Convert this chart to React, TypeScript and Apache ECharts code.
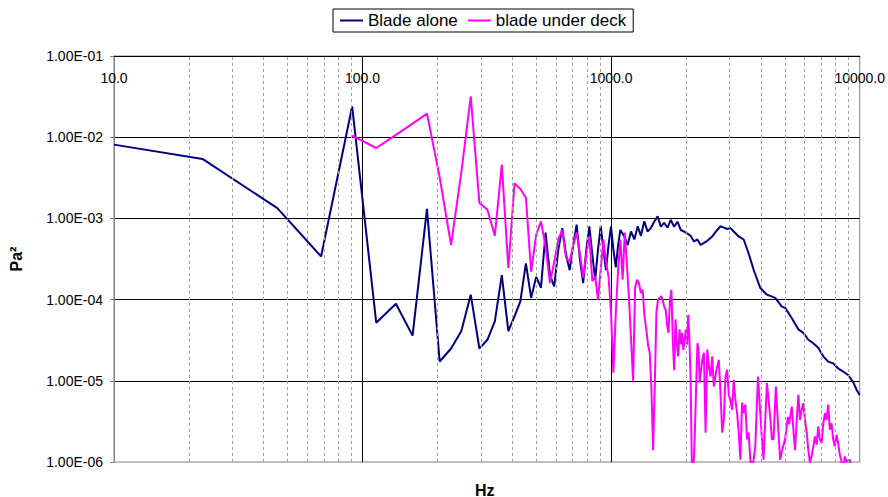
import { useEffect, useRef } from "react";
import * as echarts from "echarts";

// Power spectra of the blade microphone signal, frequency bins in Hz, levels in Pa²
const bladeAloneHz = [
  10, 22.7, 45.4, 68.1, 90.8, 113.5, 136.2, 158.9, 181.6, 204.3, 227, 249.7, 272.4,
  295.1, 317.8, 340.5, 363.2, 385.9, 408.6, 431.3, 454, 476.7, 499.4, 522.1, 544.8,
  567.5, 590.2, 612.9, 635.6, 658.3, 681, 703.7, 726.4, 749.1, 771.8, 794.5, 817.2,
  839.9, 862.6, 885.3, 908, 930.7, 953.4, 976.1, 998.8, 1021.5, 1044.2, 1066.9, 1089.6,
  1130, 1166, 1202, 1240, 1279, 1318, 1359, 1402, 1445, 1490, 1538, 1585, 1634, 1686,
  1738, 1792, 1849, 1905, 1964, 2027, 2089, 2154, 2223, 2291, 2362, 2437, 2552, 2672,
  2754, 2840, 2931, 3020, 3113, 3261, 3414, 3575, 3743, 3981, 4236, 4571, 4863, 5012,
  5333, 5665, 5932, 6213, 6505, 6812, 7133, 7469, 7821, 8190, 8576, 8980, 9403, 9727,
  10000,
];
const bladeAlonePa2 = [
  8.1e-3, 5.4e-3, 1.34e-3, 3.4e-4, 2.39e-2, 5.2e-5, 8.9e-5, 3.6e-5, 1.31e-3, 1.73e-5,
  2.5e-5, 4.1e-5, 1.15e-4, 2.5e-5, 3.2e-5, 5.4e-5, 2.0e-4, 4.1e-5, 6.2e-5, 9.5e-5,
  2.8e-4, 1.05e-4, 1.9e-4, 1.4e-4, 6.7e-4, 2.0e-4, 1.45e-4, 4.1e-4, 7.6e-4, 3.6e-4,
  2.3e-4, 4.7e-4, 8.4e-4, 3.1e-4, 1.6e-4, 4.1e-4, 8.0e-4, 3.6e-4, 1.76e-4, 4.1e-4,
  8.1e-4, 4.1e-4, 2.3e-4, 4.7e-4, 8.0e-4, 4.1e-4, 2.5e-4, 4.7e-4, 7.2e-4,
  6.0e-4, 4.7e-4, 6.9e-4, 5.5e-4, 8.0e-4, 6.1e-4, 9.2e-4, 6.9e-4, 7.6e-4, 9.1e-4,
  1.06e-3, 7.9e-4, 8.8e-4, 7.7e-4, 9.6e-4, 7.9e-4, 9.1e-4, 7.2e-4, 6.9e-4, 6.5e-4,
  6.1e-4, 5.2e-4, 5.5e-4, 4.7e-4, 5.0e-4, 5.3e-4, 6.0e-4, 7.2e-4, 8.0e-4, 7.7e-4,
  7.4e-4, 7.6e-4, 6.9e-4, 6.0e-4, 5.5e-4, 3.7e-4, 2.33e-4, 1.39e-4, 1.15e-4, 1.05e-4,
  8.2e-5, 7.9e-5, 5.9e-5, 4.3e-5, 3.9e-5, 3.2e-5, 2.9e-5, 2.55e-5, 2.0e-5, 1.72e-5,
  1.64e-5, 1.42e-5, 1.3e-5, 1.18e-5, 9.7e-6, 7.7e-6, 6.7e-6,
];

const underDeckHz = [
  90.8, 113.5, 136.2, 158.9, 181.6, 204.3, 227, 249.7, 272.4, 295.1, 317.8, 340.5,
  363.2, 385.9, 408.6, 431.3, 454, 476.7, 499.4, 522.1, 544.8, 567.5, 590.2, 612.9,
  635.6, 658.3, 681, 703.7, 726.4, 749.1, 771.8, 794.5, 817.2, 839.9, 862.6, 885.3,
  908, 930.7, 953.4, 976.1, 998.8, 1021.5, 1044.2, 1066.9, 1089.6, 1112.3, 1135,
  1157.7, 1180.4, 1203.1, 1225.8, 1248.5, 1271.2, 1293.9, 1316.6, 1339.3, 1362,
  1384.7, 1407.4, 1430.1, 1452.8, 1475.5, 1498.2, 1520.9, 1543.6, 1566.3, 1589,
  1611.7, 1634.4, 1657.1, 1679.8, 1702.5, 1725.2, 1747.9, 1770.6, 1793.3, 1816,
  1838.7, 1861.4, 1884.1, 1906.8, 1929.5, 1952.2, 1974.9, 1997.6, 2020.3, 2043,
  2065.7, 2088.4, 2111.1, 2133.8, 2156.5, 2179.2, 2201.9, 2224.6, 2247.3, 2270,
  2327, 2362, 2399, 2437, 2473, 2512, 2552, 2589, 2655, 2712, 2754, 2798, 2840, 2884,
  2929, 2973, 3020, 3067, 3113, 3162, 3212, 3261, 3311, 3364, 3414, 3467, 3522, 3574,
  3631, 3698, 3802, 3898, 3981, 4044, 4104, 4169, 4235, 4298, 4365, 4434, 4500, 4600,
  4656, 4712, 4786, 4875, 5012, 5138, 5200, 5331, 5410, 5495, 5582, 5665, 5754, 5845,
  5932, 6026, 6121, 6212, 6310, 6427, 6607, 6711, 6811, 6918, 7027, 7131, 7244, 7358,
  7468, 7586, 7705, 7821, 7943, 8069, 8189, 8318, 8449, 8575, 8710, 8872, 9120, 9204,
];
const underDeckPa2 = [
  1.045e-2, 7.36e-3, 1.07e-2, 1.47e-2, 1.95e-2, 3.2e-3, 4.7e-4, 3.7e-3, 3.18e-2,
  1.55e-3, 1.28e-3, 6.1e-4, 4.6e-3, 2.45e-4, 2.7e-3, 2.3e-3, 1.8e-3, 2.2e-4, 6.3e-4,
  9.2e-4, 4.5e-4, 1.6e-4, 2.9e-4, 5.5e-4, 7.2e-4, 3.3e-4, 2.9e-4, 4.7e-4, 6.7e-4,
  3.6e-4, 1.86e-4, 3.6e-4, 6.0e-4, 1.68e-4, 1.93e-4, 1.0e-4, 2.33e-4, 5.5e-4, 2.9e-4,
  1.93e-4, 6.9e-5, 1.26e-5, 6.9e-5, 2.33e-4, 5.5e-4, 1.76e-4, 6.7e-4, 2.7e-4, 1.0e-4,
  3.2e-5, 1.0e-5, 1.4e-4, 1.76e-4, 1.6e-4, 1.2e-4, 1.32e-4, 6.2e-5, 4.3e-5, 2.8e-5,
  2.2e-5, 7.8e-6, 1.4e-6, 8.5e-6, 6.9e-5, 1.0e-4, 1.05e-4, 1.1e-4, 1.0e-4, 8.2e-5,
  7.5e-5, 4.8e-5, 3.9e-5, 1.0e-4, 1.32e-4, 3.2e-5, 1.35e-5, 5.7e-5, 2.8e-5, 2.0e-5,
  4.3e-5, 2.8e-5, 3.9e-5, 2.4e-5, 3.2e-5, 4.3e-5, 2.8e-5, 6.5e-5, 3.2e-5, 1.03e-5,
  1.04e-6, 8e-7, 1.2e-6, 3.3e-6, 1.03e-5, 2.9e-5, 2.4e-5, 9.5e-6,
  1.82e-5, 2.22e-5, 2.3e-6, 2.42e-5, 1.5e-5, 1.13e-5, 2.0e-5, 8.5e-6, 1.37e-5, 1.82e-5,
  7.1e-6, 2.3e-6, 3.3e-6, 1.13e-5, 1.37e-5, 6.7e-6, 5.8e-6, 4.4e-6, 1.03e-5, 5.8e-6,
  4.0e-6, 2.3e-6, 1.07e-6, 5.4e-6, 4.0e-6, 5.1e-6, 1.9e-6, 2.3e-6, 1.07e-6, 8e-7,
  1.56e-6, 1.13e-5, 4.0e-6, 1.9e-6, 1.07e-6, 3.3e-6, 9.4e-6, 5.8e-6, 3.6e-6, 1.9e-6,
  1.9e-6, 8.5e-6, 4.4e-6, 2.3e-6, 1.07e-6, 1.4e-6, 1.9e-6, 3.6e-6, 2.9e-6, 4.8e-6,
  2.5e-6, 1.4e-6, 3.3e-6, 6.7e-6, 3.3e-6, 4.4e-6, 5.3e-6, 3.3e-6, 2.3e-6, 1.4e-6,
  9.8e-7, 1.23e-6, 2.07e-6, 1.63e-6, 2.74e-6, 1.9e-6, 1.71e-6, 2.9e-6, 4.0e-6, 3.3e-6,
  5.1e-6, 2.5e-6, 3.0e-6, 1.9e-6, 1.56e-6, 2.17e-6, 1.71e-6, 1.23e-6, 1.02e-6, 8e-7,
  1.17e-6, 1.0e-6, 1.07e-6, 8e-7,
];

// Dashed minor gridlines at 2..9 of each decade
const minorGridHz = [
  20, 30, 40, 50, 60, 70, 80, 90,
  200, 300, 400, 500, 600, 700, 800, 900,
  2000, 3000, 4000, 5000, 6000, 7000, 8000, 9000,
];

const FONT = '"Liberation Sans", Arial, sans-serif';

function sciLabel(v: number): string {
  const exp = Math.round(Math.log10(v));
  const mant = v / Math.pow(10, exp);
  const sign = exp < 0 ? "-" : "+";
  return `${mant.toFixed(2)}E${sign}${String(Math.abs(exp)).padStart(2, "0")}`;
}

export default function App() {
  const ref = useRef<HTMLDivElement>(null);

  useEffect(() => {
    if (!ref.current) return;
    const chart = echarts.init(ref.current, undefined, { renderer: "svg" });

    const option = {
      animation: false,
      backgroundColor: "#ffffff",
      textStyle: { fontFamily: FONT },
      legend: {
        left: 333,
        top: 9,
        data: ["Blade alone", "blade under deck"],
        icon: "rect",
        itemWidth: 23,
        itemHeight: 2,
        itemGap: 10,
        padding: [3, 7, 3, 7],
        borderColor: "#000",
        borderWidth: 1,
        backgroundColor: "#fff",
        textStyle: { fontSize: 17, color: "#000", fontFamily: FONT },
      },
      grid: {
        left: 110,
        top: 56,
        width: 750,
        height: 406,
        show: true,
        borderColor: "#808080",
        borderWidth: 1,
      },
      xAxis: {
        type: "log",
        logBase: 10,
        min: 10,
        max: 10000,
        position: "top",
        axisLine: { show: true, lineStyle: { color: "#000", width: 1 } },
        axisTick: { show: false },
        axisLabel: {
          inside: true,
          margin: 15,
          fontSize: 14,
          color: "#000",
          fontFamily: FONT,
          formatter: (v: number) => Number(v).toFixed(1),
        },
        splitLine: {
          show: true,
          showMinLine: false,
          showMaxLine: false,
          lineStyle: { color: "#000", width: 1 },
        },
      },
      yAxis: {
        type: "log",
        logBase: 10,
        min: 1e-6,
        max: 0.1,
        splitNumber: 5,
        name: "Pa²",
        nameLocation: "middle",
        nameGap: 90,
        nameRotate: 90,
        nameTextStyle: { fontSize: 16, fontWeight: "bold", color: "#000", fontFamily: FONT },
        axisLine: { show: true, lineStyle: { color: "#808080", width: 1 } },
        axisTick: { show: true, length: 4, lineStyle: { color: "#808080" } },
        axisLabel: {
          margin: 11,
          fontSize: 14,
          color: "#000",
          fontFamily: FONT,
          formatter: (v: number) => sciLabel(v),
        },
        splitLine: {
          show: true,
          showMinLine: false,
          showMaxLine: false,
          lineStyle: { color: "#000", width: 1 },
        },
      },
      graphic: [
        {
          type: "text",
          left: 475,
          top: 482,
          style: { text: "Hz", fontSize: 16, fontWeight: "bold", fill: "#000", fontFamily: FONT },
        },
      ],
      series: [
        {
          type: "line",
          data: [],
          silent: true,
          z: 1,
          markLine: {
            silent: true,
            symbol: "none",
            animation: false,
            label: { show: false },
            lineStyle: { type: [3, 3], color: "#a0a0a0", width: 1 },
            emphasis: { disabled: true },
            data: minorGridHz.map((hz) => ({ xAxis: hz })),
          },
        },
        {
          name: "Blade alone",
          type: "line",
          color: "#000080",
          showSymbol: false,
          symbol: "none",
          z: 3,
          lineStyle: { color: "#000080", width: 2 },
          data: bladeAloneHz.map((hz, i) => [hz, bladeAlonePa2[i]]),
        },
        {
          name: "blade under deck",
          type: "line",
          color: "#ff00ff",
          showSymbol: false,
          symbol: "none",
          z: 4,
          lineStyle: { color: "#ff00ff", width: 2 },
          data: underDeckHz.map((hz, i) => [hz, underDeckPa2[i]]),
        },
      ],
    };

    chart.setOption(option as any);
    return () => chart.dispose();
  }, []);

  return (
    <div
      ref={ref}
      style={{ position: "fixed", left: 0, top: 0, width: 888, height: 497 }}
    />
  );
}
